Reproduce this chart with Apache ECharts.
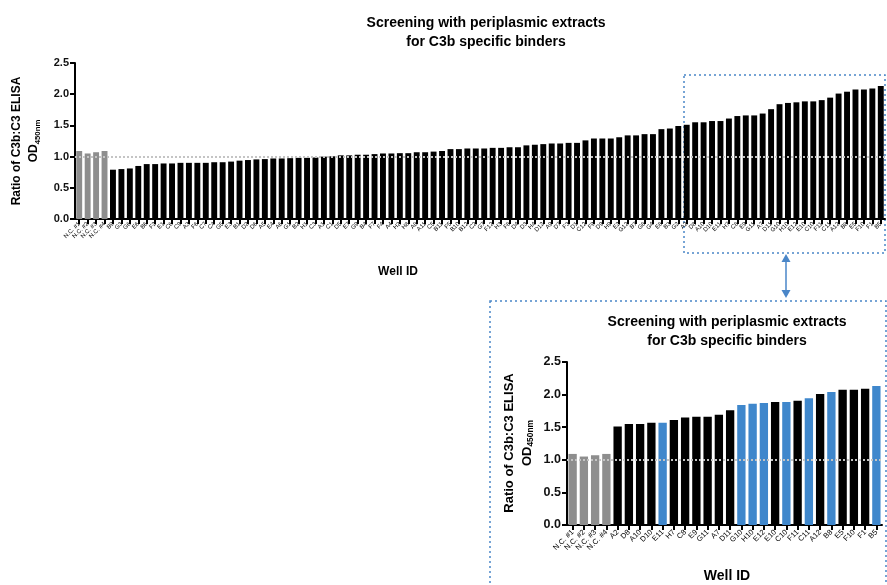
<!DOCTYPE html>
<html>
<head>
<meta charset="utf-8">
<style>
  html, body { margin: 0; padding: 0; background: #fff; }
  #chart { width: 887px; height: 585px; }
</style>
<script src="https://cdn.jsdelivr.net/npm/echarts@6/dist/echarts.min.js"></script>
</head>
<body>
<div id="chart"></div>
<script>
// ---------- DATA ----------
const controlLabels = ['N.C. #1', 'N.C. #2', 'N.C. #3', 'N.C. #4'];
const controlValues = [1.09, 1.05, 1.07, 1.09];

const lowerWells = ['B9','G3','G6','E6','B6','F2','E1','C6','C9','A3',
  'F6','C7','C4','G5','E3','B1','D2','D6','A5','E4',
  'A6','G1','B2','H1','C3','A1','C1','D5','E7','G9',
  'B4','F7','F4','A4','H2','H8','A8','A11','C5','B11',
  'F5','B10','B12','C2','G7','F12','H3','F8','D4','D3',
  'H4','D12','A9','D7','F3','D1','C12','F9','D9','H9',
  'E2','G12','B7','G8','G4','E8','B3','G2'];
const lowerValues = [0.79,0.80,0.81,0.85,0.88,0.88,0.89,0.89,0.90,0.90,
  0.90,0.90,0.91,0.91,0.92,0.935,0.945,0.955,0.96,0.97,
  0.97,0.975,0.98,0.98,0.985,1.00,1.005,1.02,1.02,1.03,
  1.03,1.04,1.05,1.05,1.055,1.055,1.07,1.07,1.08,1.09,
  1.12,1.12,1.13,1.13,1.13,1.14,1.14,1.15,1.15,1.18,
  1.19,1.20,1.21,1.21,1.22,1.22,1.26,1.29,1.29,1.29,
  1.31,1.34,1.34,1.36,1.36,1.44,1.45,1.49];

const topWells = ['A2','D8','A10','D10','E11','H7','C8','E9','G11','A7','D11','G10',
  'H10','E12','E10','C10','F11','C11','A12','B8','E5','F10','F1','B5'];
const topWellValues = [1.51,1.55,1.55,1.57,1.57,1.61,1.65,1.66,1.66,1.69,1.76,1.84,
  1.86,1.87,1.885,1.885,1.905,1.945,2.01,2.04,2.075,2.075,2.09,2.13];
const blueWells = ['E11','G10','H10','E12','C10','C11','B8','B5'];

const yTicks = [0, 0.5, 1.0, 1.5, 2.0, 2.5];
const threshold = 1.0;

const titleText = 'Screening with periplasmic extracts\nfor C3b specific binders';
const yNameLine1 = 'Ratio of C3b:C3 ELISA';
const xName = 'Well ID';

// ---------- BUILD ----------
const allCategories = controlLabels.concat(lowerWells, topWells);
const allValues = controlValues.concat(lowerValues, topWellValues);
const zoomCategories = controlLabels.concat(topWells);
const zoomValues = controlValues.concat(topWellValues);

const GREY = '#8e8e8e', BLACK = '#000000', BLUE = '#3f87cc';
const FONT = "'Liberation Sans', Arial, sans-serif";

function items(cats, vals, useBlue) {
  return vals.map((v, i) => {
    const c = cats[i];
    let color = BLACK;
    if (c.indexOf('N.C.') === 0) color = GREY;
    else if (useBlue && blueWells.indexOf(c) >= 0) color = BLUE;
    return { value: v, itemStyle: { color } };
  });
}

const chart = echarts.init(document.getElementById('chart'), null, { renderer: 'canvas' });

function yAxisCfg(gridIndex, fs) {
  return {
    gridIndex, type: 'value', min: yTicks[0], max: yTicks[yTicks.length - 1], interval: 0.5,
    axisLine: { show: true, lineStyle: { color: '#000', width: 2 } },
    axisTick: { show: true, length: 5, lineStyle: { color: '#000', width: 2 } },
    axisLabel: { color: '#111', fontSize: fs, fontWeight: 'bold', fontFamily: FONT, margin: 6,
      formatter: v => v.toFixed(1) },
    splitLine: { show: false }
  };
}
function xAxisCfg(gridIndex, cats, fs, margin) {
  return {
    gridIndex, type: 'category', data: cats, boundaryGap: true,
    axisLine: { show: true, lineStyle: { color: '#000', width: 2 } },
    axisTick: { show: true, alignWithLabel: true, length: 5, interval: 0, lineStyle: { color: '#000', width: 2 } },
    axisLabel: { interval: 0, rotate: 45, fontSize: fs, color: '#000', fontFamily: FONT, margin }
  };
}
const markLineCfg = {
  silent: true, symbol: 'none', z: 10,
  label: { show: false },
  lineStyle: { type: 'dotted', color: '#c4c4c4', width: 2 },
  data: [{ yAxis: threshold }]
};

const subRich = {
  m: { fontSize: 13, fontWeight: 'bold', fontFamily: FONT, lineHeight: 16, fill: '#000' },
  s: { fontSize: 8, fontWeight: 'bold', fontFamily: FONT, lineHeight: 8, padding: [9, 0, 0, 0], verticalAlign: 'bottom', fill: '#000' }
};

function yName(x1, x2, cy, fs) {
  return [
    { type: 'text', x: x1, y: cy, rotation: Math.PI / 2,
      style: { text: yNameLine1, font: `bold ${fs}px ${FONT}`, fill: '#000', align: 'center', verticalAlign: 'middle' } },
    { type: 'text', x: x2, y: cy, rotation: Math.PI / 2,
      style: { text: '{m|OD}{s|450nm}', rich: {
        m: { fontSize: fs, fontWeight: 'bold', fontFamily: FONT, lineHeight: 16, fill: '#000' },
        s: { fontSize: fs * 0.65, fontWeight: 'bold', fontFamily: FONT, lineHeight: 8, padding: [9, 0, 0, 0], verticalAlign: 'bottom', fill: '#000' }
      }, align: 'center', verticalAlign: 'middle' } }
  ];
}

const BOXC = '#4a86c8';
const option = {
  animation: false,
  backgroundColor: '#fff',
  title: [
    { text: titleText, left: 481, top: 9, textAlign: 'center',
      textStyle: { fontSize: 14, fontWeight: 'bold', color: '#000', fontFamily: FONT, lineHeight: 19 } },
    { text: titleText, left: 722, top: 308, textAlign: 'center',
      textStyle: { fontSize: 14, fontWeight: 'bold', color: '#000', fontFamily: FONT, lineHeight: 19 } },
    { text: xName, left: 393, top: 261, textAlign: 'center',
      textStyle: { fontSize: 12, fontWeight: 'bold', color: '#000', fontFamily: FONT } },
    { text: xName, left: 722, top: 564, textAlign: 'center',
      textStyle: { fontSize: 14, fontWeight: 'bold', color: '#000', fontFamily: FONT } }
  ],
  grid: [
    { left: 75, right: 2, top: 63, bottom: 366, containLabel: false },
    { left: 567, right: 5, top: 362, bottom: 60, containLabel: false }
  ],
  xAxis: [xAxisCfg(0, allCategories, 6, 4), xAxisCfg(1, zoomCategories, 7.5, 6)],
  yAxis: [yAxisCfg(0, 11), yAxisCfg(1, 12.5)],
  series: [
    { type: 'bar', xAxisIndex: 0, yAxisIndex: 0, barWidth: '70%',
      data: items(allCategories, allValues, false), markLine: markLineCfg },
    { type: 'bar', xAxisIndex: 1, yAxisIndex: 1, barWidth: '74%',
      data: items(zoomCategories, zoomValues, true), markLine: markLineCfg }
  ],
  graphic: [
    ...yName(17, 34, 141, 12),
    ...yName(509, 527, 443, 13),
    { type: 'rect', shape: { x: 684, y: 75, width: 201, height: 178 }, silent: true,
      style: { fill: 'none', stroke: BOXC, lineWidth: 1.5, lineDash: [2, 3] } },
    { type: 'rect', shape: { x: 490, y: 301, width: 396, height: 290 }, silent: true,
      style: { fill: 'none', stroke: BOXC, lineWidth: 1.5, lineDash: [2, 3] } },
    { type: 'line', shape: { x1: 786, y1: 260, x2: 786, y2: 292 }, silent: true,
      style: { stroke: BOXC, lineWidth: 1.5 } },
    { type: 'polygon', shape: { points: [[786, 254], [781.5, 262], [790.5, 262]] }, silent: true,
      style: { fill: BOXC } },
    { type: 'polygon', shape: { points: [[786, 298], [781.5, 290], [790.5, 290]] }, silent: true,
      style: { fill: BOXC } }
  ]
};
chart.setOption(option);
</script>
</body>
</html>
